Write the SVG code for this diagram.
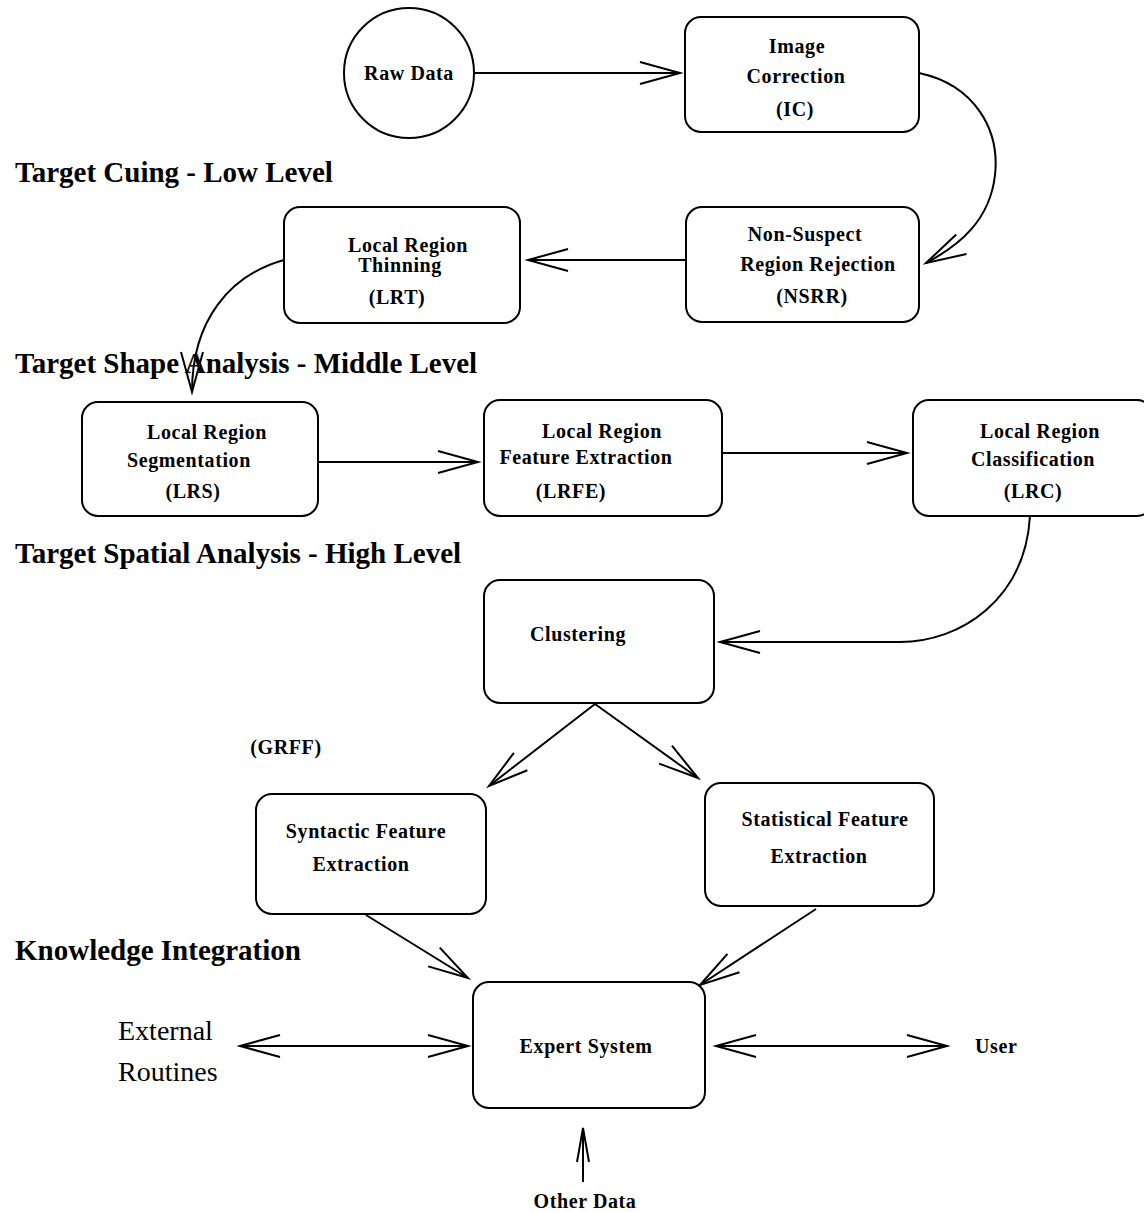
<svg xmlns="http://www.w3.org/2000/svg" width="1144" height="1212" viewBox="0 0 1144 1212">
<style>
.box{fill:#fff;stroke:#000;stroke-width:2}
.t{font-family:"Liberation Serif","Times New Roman",serif;font-weight:bold;font-size:20px;letter-spacing:0.6px;fill:#000;text-anchor:middle}
.lbl{font-family:"Liberation Serif","Times New Roman",serif;font-weight:bold;font-size:29px;fill:#000}
.reg{font-family:"Liberation Serif","Times New Roman",serif;font-size:28px;fill:#000}
.c{fill:none;stroke:#000;stroke-width:2}
</style>
<defs>
<marker id="ah" markerUnits="userSpaceOnUse" markerWidth="50" markerHeight="30" refX="0" refY="0" viewBox="-44 -15 48 30" orient="auto" overflow="visible">
<path d="M-40,-11 L0,0 L-40,11" fill="none" stroke="#000" stroke-width="2"/>
</marker>
<marker id="ahs" markerUnits="userSpaceOnUse" markerWidth="50" markerHeight="30" refX="0" refY="0" viewBox="-44 -15 48 30" orient="auto" overflow="visible">
<path d="M-34,-6 L0,0 L-34,6" fill="none" stroke="#000" stroke-width="2"/>
</marker>
<marker id="ahr" markerUnits="userSpaceOnUse" markerWidth="50" markerHeight="30" refX="0" refY="0" viewBox="-44 -15 48 30" orient="auto-start-reverse" overflow="visible">
<path d="M-40,-11 L0,0 L-40,11" fill="none" stroke="#000" stroke-width="2"/>
</marker>
</defs>
<rect width="1144" height="1212" fill="#fff"/>

<g id="labels">
<text class="lbl" x="15" y="182">Target Cuing - Low Level</text>
<text class="lbl" x="15" y="373">Target Shape Analysis - Middle Level</text>
<text class="lbl" x="15" y="563">Target Spatial Analysis - High Level</text>
<text class="lbl" x="15" y="960">Knowledge Integration</text>
</g>

<g id="connectors">
<line class="c" x1="474" y1="73" x2="680" y2="73" marker-end="url(#ah)"/>
<path class="c" d="M919,73 C975,85 1000,130 995,175 C990,220 960,245 926,263" marker-end="url(#ah)"/>
<line class="c" x1="686" y1="260" x2="528" y2="260" marker-end="url(#ah)"/>
<path class="c" d="M284,260 C230,275 192,320 192,392" marker-end="url(#ah)"/>
<line class="c" x1="318" y1="462" x2="478" y2="462" marker-end="url(#ah)"/>
<line class="c" x1="722" y1="453" x2="907" y2="453" marker-end="url(#ah)"/>
<path class="c" d="M1030,516 C1025,600 960,642 900,642 L720,642" marker-end="url(#ah)"/>
<line class="c" x1="595" y1="704" x2="489" y2="786" marker-end="url(#ah)"/>
<line class="c" x1="595" y1="704" x2="698" y2="778" marker-end="url(#ah)"/>
<line class="c" x1="366" y1="915" x2="468" y2="978" marker-end="url(#ah)"/>
<line class="c" x1="816" y1="909" x2="700" y2="985" marker-end="url(#ah)"/>
<line class="c" x1="240" y1="1046" x2="468" y2="1046" marker-start="url(#ahr)" marker-end="url(#ahr)"/>
<line class="c" x1="716" y1="1046" x2="947" y2="1046" marker-start="url(#ahr)" marker-end="url(#ahr)"/>
<line class="c" x1="583" y1="1182" x2="583" y2="1128" marker-end="url(#ahs)"/>
</g>

<g id="raw">
<circle class="box" cx="409" cy="73" r="65"/>
<text class="t" x="409" y="80">Raw Data</text>
</g>
<g id="ic">
<rect class="box" x="685" y="17" width="234" height="115" rx="16"/>
<text class="t" x="797" y="53">Image</text>
<text class="t" x="796" y="83">Correction</text>
<text class="t" x="795" y="116">(IC)</text>
</g>
<g id="nsrr">
<rect class="box" x="686" y="207" width="233" height="115" rx="16"/>
<text class="t" x="805" y="241">Non-Suspect</text>
<text class="t" x="818" y="271">Region Rejection</text>
<text class="t" x="812" y="303">(NSRR)</text>
</g>
<g id="lrt">
<rect class="box" x="284" y="207" width="236" height="116" rx="16"/>
<text class="t" x="408" y="252">Local Region</text>
<text class="t" x="400" y="272">Thinning</text>
<text class="t" x="397" y="304">(LRT)</text>
</g>
<g id="lrs">
<rect class="box" x="82" y="402" width="236" height="114" rx="16"/>
<text class="t" x="207" y="439">Local Region</text>
<text class="t" x="189" y="467">Segmentation</text>
<text class="t" x="193" y="498">(LRS)</text>
</g>
<g id="lrfe">
<rect class="box" x="484" y="400" width="238" height="116" rx="16"/>
<text class="t" x="602" y="438">Local Region</text>
<text class="t" x="586" y="464">Feature Extraction</text>
<text class="t" x="571" y="498">(LRFE)</text>
</g>
<g id="lrc">
<rect class="box" x="913" y="400" width="240" height="116" rx="16"/>
<text class="t" x="1040" y="438">Local Region</text>
<text class="t" x="1033" y="466">Classification</text>
<text class="t" x="1033" y="498">(LRC)</text>
</g>
<g id="clustering">
<rect class="box" x="484" y="580" width="230" height="123" rx="16"/>
<text class="t" x="578" y="641">Clustering</text>
</g>
<text class="t" x="286" y="754">(GRFF)</text>
<g id="syntactic">
<rect class="box" x="256" y="794" width="230" height="120" rx="16"/>
<text class="t" x="366" y="838">Syntactic Feature</text>
<text class="t" x="361" y="871">Extraction</text>
</g>
<g id="statistical">
<rect class="box" x="705" y="783" width="229" height="123" rx="16"/>
<text class="t" x="825" y="826">Statistical Feature</text>
<text class="t" x="819" y="863">Extraction</text>
</g>
<g id="expert">
<rect class="box" x="473" y="982" width="232" height="126" rx="16"/>
<text class="t" x="586" y="1053">Expert System</text>
</g>
<g id="external">
<text class="reg" x="118" y="1040">External</text>
<text class="reg" x="118" y="1081">Routines</text>
</g>
<g id="user"><text class="t" x="975" y="1053" style="text-anchor:start">User</text></g>
<g id="otherdata"><text class="t" x="585" y="1208">Other Data</text></g>
</svg>
